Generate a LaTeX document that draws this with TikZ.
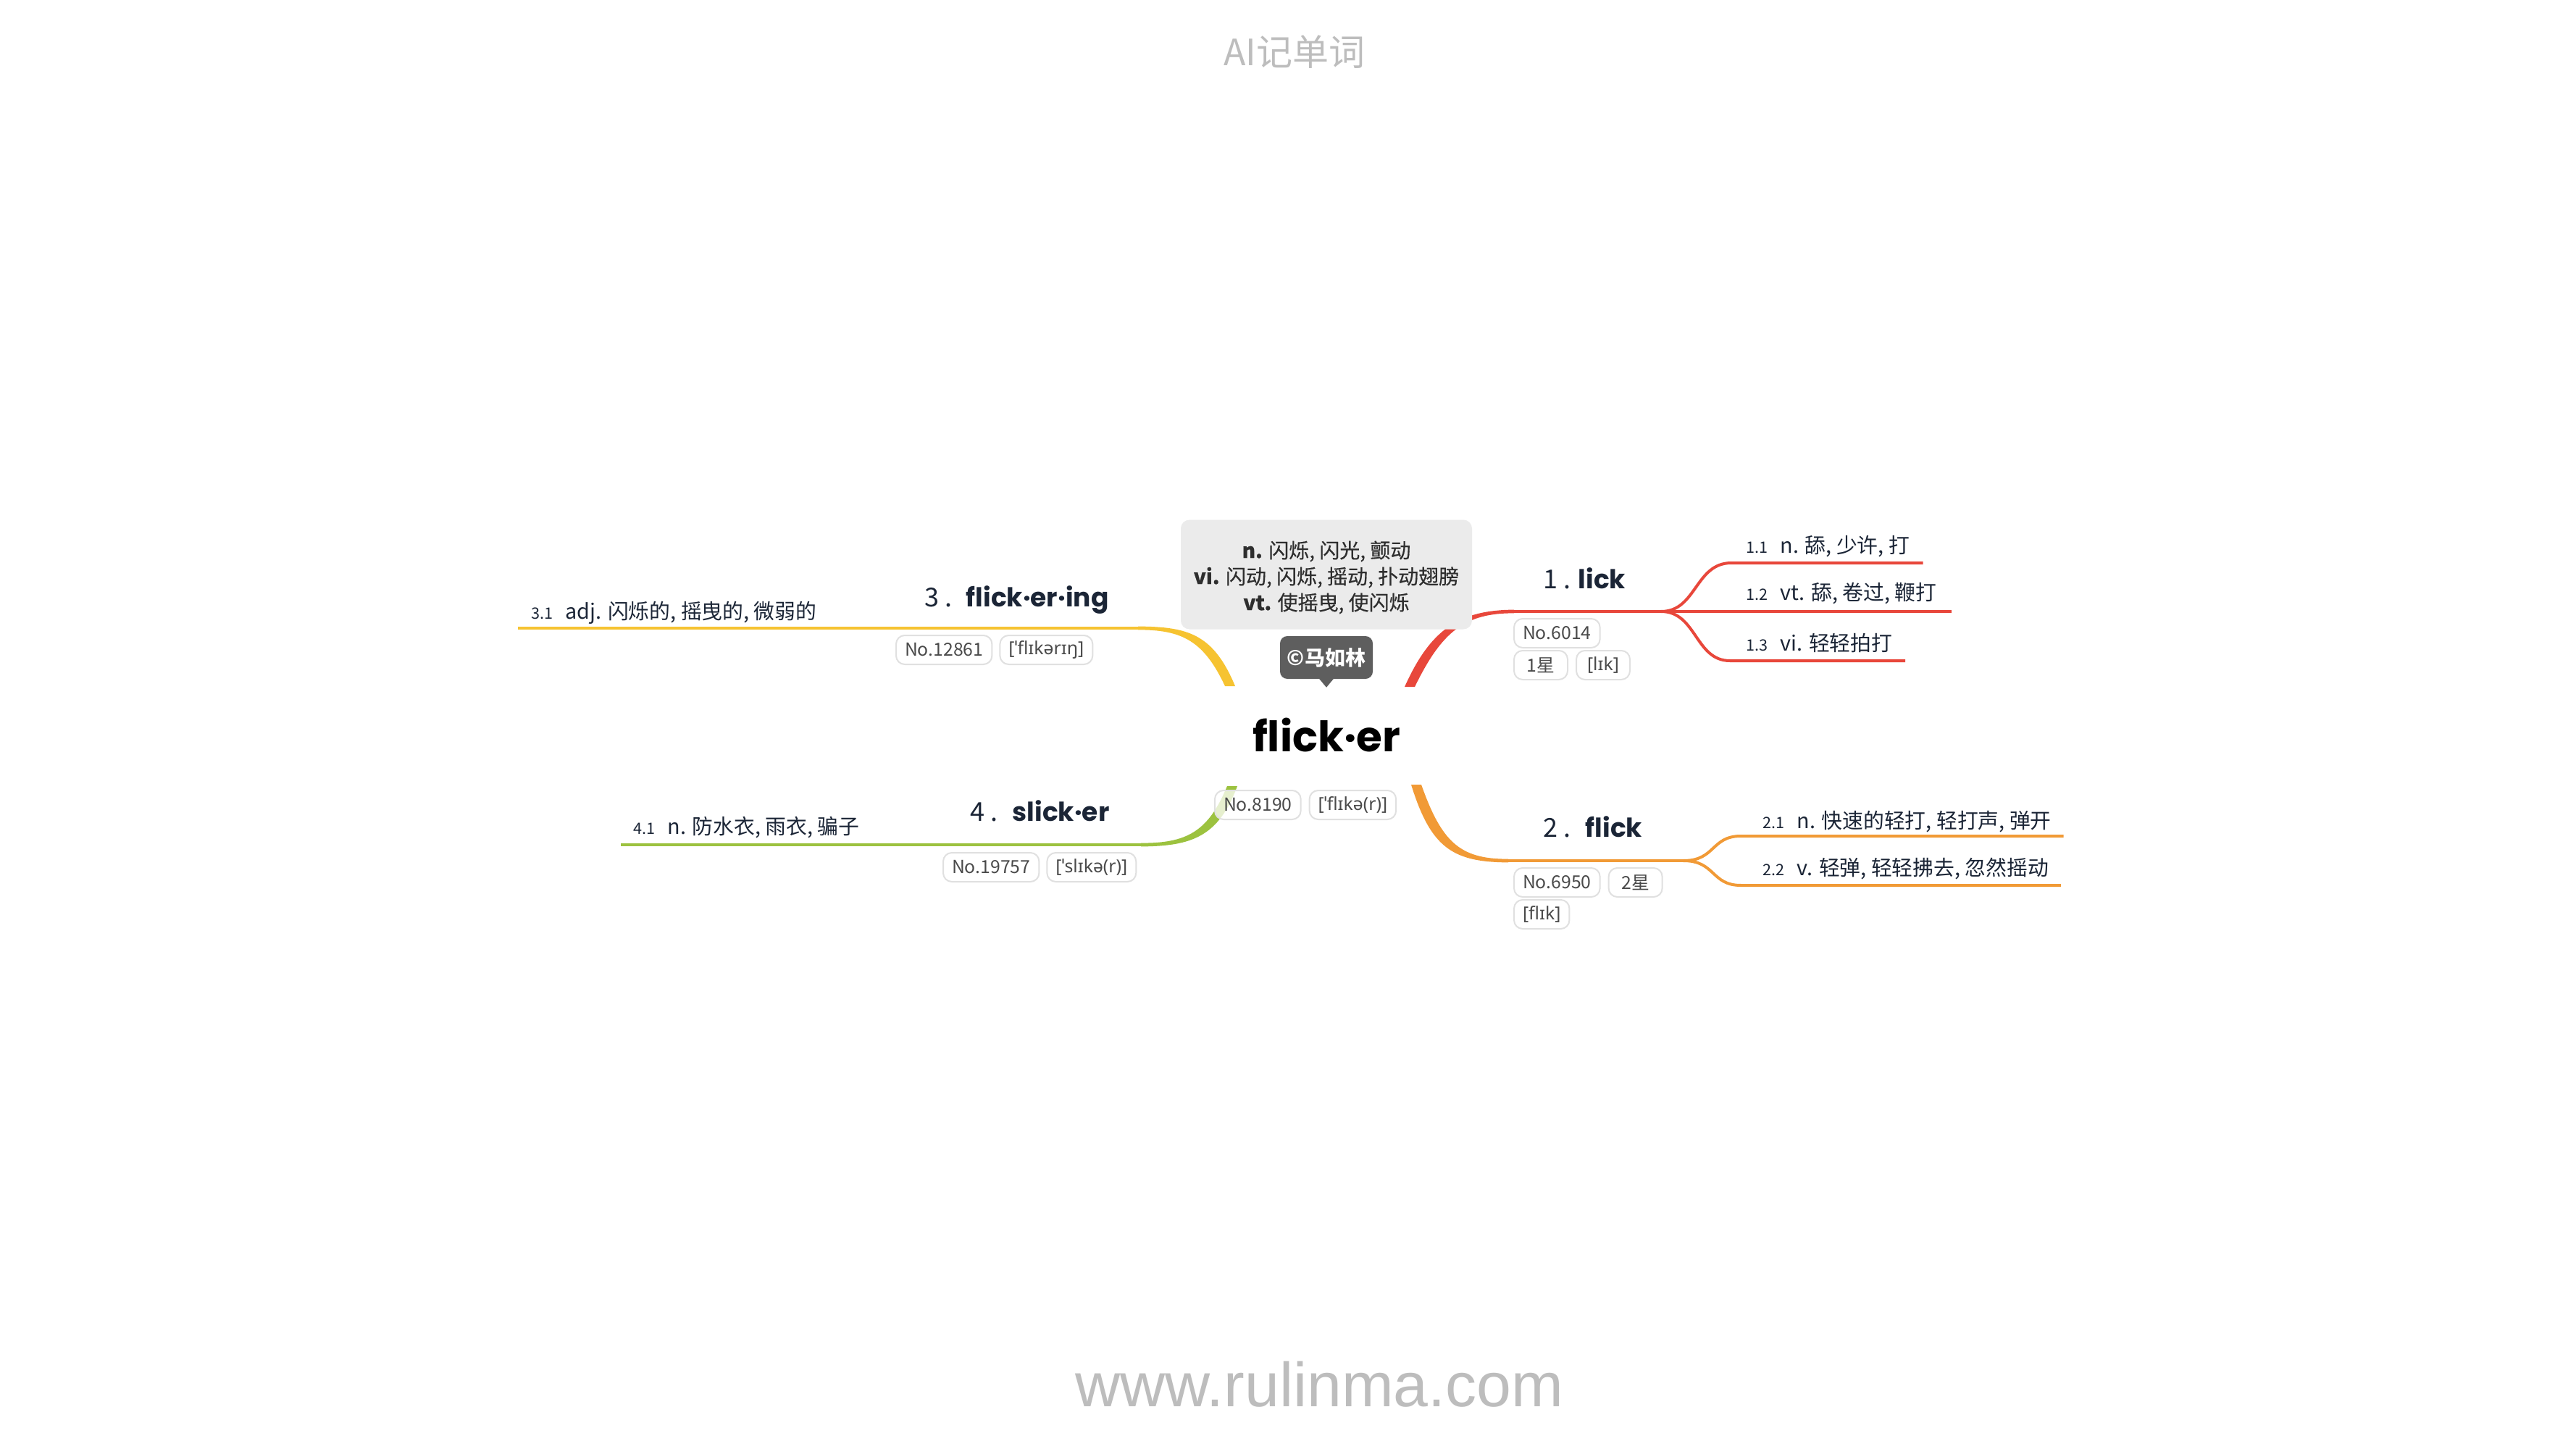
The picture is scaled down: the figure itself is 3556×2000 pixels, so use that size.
\documentclass[tikz,border=0pt]{standalone}
\usepackage{fontspec}
\setmainfont{Noto Sans CJK SC}
\newfontfamily\defcjk{Noto Sans CJK SC}[FakeBold=0.5]
\newfontfamily\ipafont{Noto Sans}
\newfontfamily\titlefont{Poppins}
\newfontfamily\urlfont{Liberation Sans}
\usetikzlibrary{calc}
\definecolor{cred}{HTML}{E8473B}
\definecolor{corange}{HTML}{F19A36}
\definecolor{cyellow}{HTML}{F6C331}
\definecolor{cgreen}{HTML}{9CC23F}
\definecolor{navy}{HTML}{1B2536}
\definecolor{tagtext}{HTML}{4A4A4A}
\definecolor{tagline}{HTML}{E0E0E0}
\definecolor{wm}{HTML}{BDBDBD}
\definecolor{defbg}{HTML}{EBEBEB}
\definecolor{deftext}{HTML}{2E2E2E}
\definecolor{authbg}{HTML}{5E5E5E}
\newcommand\subnumfont{\fontsize{5.4}{6}\selectfont}
\begin{document}
\begin{tikzpicture}[x=0.25pt,y=-0.25pt,
  tag/.style={draw=tagline, line width=0.5pt, rounded corners=3pt, fill=white,
    fill opacity=0.75, text opacity=1, text=tagtext,
    font=\fontsize{6.2}{7}\selectfont, inner xsep=3pt, inner ysep=0pt,
    minimum height=10pt, minimum width=18.5pt, anchor=west},
  sublabel/.style={font=\fontsize{7.2}{8.6}\selectfont, text=navy, inner sep=0pt, anchor=base west},
  bnum/.style={font=\fontsize{9}{10}\selectfont, text=navy, inner sep=0pt, anchor=base west},
  btitle/.style={font=\titlefont\bfseries\fontsize{9}{10}\selectfont, text=navy, inner sep=0pt, anchor=base west},
  mainline/.style={line width=1.2pt},
  subline/.style={line width=1pt},
]
\fill[white] (0,0) rectangle (3556,2000);
\useasboundingbox (0,0) rectangle (3556,2000);

% watermark texts
\node[text=wm, font=\fontsize{12.5}{15}\selectfont] (title) at (1787,72) {AI记单词};
\node[text=wm, font=\urlfont\fontsize{21.5}{24}\selectfont] (url) at (1821,1911) {www.rulinma.com};

% central word
\node[font=\titlefont\bfseries\fontsize{14.5}{16}\selectfont, text=black, inner sep=0pt, anchor=base] (c) at (1831,1037) {flick·er};

% branch anchor coordinates
\coordinate (r0) at (1946,948);
\coordinate (r1) at (2090,844);
\coordinate (rs) at (2293,844);
\coordinate (o0) at (1955,1083);
\coordinate (o1) at (2082,1188);
\coordinate (os) at (2324,1188);
\coordinate (y0) at (1698,947);
\coordinate (y1) at (1571,867);
\coordinate (g0) at (1701,1085);
\coordinate (g1) at (1575,1166);

% branch titles
\node[bnum] (n1) at (2130,812) {1 .};
\node[btitle] (b1) at (2178,812) {lick};
\node[bnum] (n2) at (2130,1155) {2 .};
\node[btitle] (b2) at (2188,1155) {flick};
\node[bnum] (n3) at (1276,837) {3 .};
\node[btitle] (b3) at (1333,837) {flick·er·ing};
\node[bnum] (n4) at (1339,1133) {4 .};
\node[btitle] (b4) at (1397,1133) {slick·er};

% sub labels
\node[sublabel] (s11) at (2410,763) {{\subnumfont 1.1}\hspace{4.2pt}n. 舔, 少许, 打};
\node[sublabel] (s12) at (2410,829) {{\subnumfont 1.2}\hspace{4.2pt}vt. 舔, 卷过, 鞭打};
\node[sublabel] (s13) at (2410,898) {{\subnumfont 1.3}\hspace{4.2pt}vi. 轻轻拍打};
\node[sublabel] (s21) at (2433,1143) {{\subnumfont 2.1}\hspace{4.2pt}n. 快速的轻打, 轻打声, 弹开};
\node[sublabel] (s22) at (2433,1208) {{\subnumfont 2.2}\hspace{4.2pt}v. 轻弹, 轻轻拂去, 忽然摇动};
\node[sublabel] (s31) at (733,854) {{\subnumfont 3.1}\hspace{4.2pt}adj. 闪烁的, 摇曳的, 微弱的};
\node[sublabel] (s41) at (874,1151) {{\subnumfont 4.1}\hspace{4.2pt}n. 防水衣, 雨衣, 骗子};

\coordinate (l11) at (2390,777);
\coordinate (l13) at (2388,912);
\coordinate (l21) at (2403,1154);
\coordinate (l22) at (2403,1222);

% red branch
\fill[cred] ($(r0)+(-7,0)$) .. controls (1975,868) and (2015,842) .. ($(r1)+(0,-2.4)$)
  -- ($(r1)+(0,2.4)$) .. controls (2022,846) and (1990,872) .. ($(r0)+(7,0)$) -- cycle;
\draw[cred, mainline] (r1) -- (rs);
\draw[cred, subline] (rs) .. controls (2342,844) and (2340,777) .. (l11) -- ($(s11.east |- l11)+(18,0)$);
\draw[cred, subline] (rs) -- ($(s12.east |- rs)+(20,0)$);
\draw[cred, subline] (rs) .. controls (2342,844) and (2340,912) .. (l13) -- ($(s13.east |- l13)+(17,0)$);

% orange branch
\fill[corange] ($(o0)+(-7,0)$) .. controls (1975,1170) and (2005,1190) .. ($(o1)+(0,2.4)$)
  -- ($(o1)+(0,-2.4)$) .. controls (2015,1186) and (1990,1162) .. ($(o0)+(7,0)$) -- cycle;
\draw[corange, mainline] (o1) -- (os);
\draw[corange, subline] (os) .. controls (2368,1188) and (2362,1154) .. (l21) -- ($(s21.east |- l21)+(16,0)$);
\draw[corange, subline] (os) .. controls (2368,1188) and (2362,1222) .. (l22) -- ($(s22.east |- l22)+(16,0)$);

% yellow branch
\fill[cyellow] ($(y0)+(7,0)$) .. controls (1675,875) and (1640,865) .. ($(y1)+(0,-2.4)$)
  -- ($(y1)+(0,2.4)$) .. controls (1632,869) and (1662,885) .. ($(y0)+(-7,0)$) -- cycle;
\draw[cyellow, mainline] (y1) -- ($(s31.west |- y1)+(-18,0)$);

% green branch
\fill[cgreen] ($(g0)+(7,0)$) .. controls (1682,1155) and (1645,1168) .. ($(g1)+(0,2.4)$)
  -- ($(g1)+(0,-2.4)$) .. controls (1638,1164) and (1668,1148) .. ($(g0)+(-7,0)$) -- cycle;
\draw[cgreen, mainline] (g1) -- ($(s41.west |- g1)+(-17,0)$);

% tags
\node[tag] (t0a) at (1676,1111) {No.8190};
\node[tag] (t0b) at ($(t0a.east)+(10,0)$) {\ipafont [ˈflɪkə(r)]};
\node[tag] (t1a) at (2089,874) {No.6014};
\node[tag] (t1b) at (2089,918) {1星};
\node[tag] (t1c) at ($(t1b.east)+(10,0)$) {\ipafont [lɪk]};
\node[tag] (t2a) at (2089,1218) {No.6950};
\node[tag] (t2b) at ($(t2a.east)+(10,0)$) {2星};
\node[tag] (t2c) at (2089,1262) {\ipafont [flɪk]};
\node[tag] (t3a) at (1236,897) {No.12861};
\node[tag] (t3b) at ($(t3a.east)+(9,0)$) {\ipafont [ˈflɪkərɪŋ]};
\node[tag] (t4a) at (1301,1197) {No.19757};
\node[tag] (t4b) at ($(t4a.east)+(9,0)$) {\ipafont [ˈslɪkə(r)]};

% definition box
\node[fill=defbg, rounded corners=3pt, minimum width=100.5pt, minimum height=37.75pt,
  text=deftext, inner sep=0pt] (def) at (1831,793) {};
\node[align=center, text=deftext, font=\defcjk\fontsize{7}{9}\selectfont, inner sep=0pt] (deftxt) at (1831,797)
  {{\bfseries n.} 闪烁, 闪光, 颤动\\ {\bfseries vi.} 闪动, 闪烁, 摇动, 扑动翅膀\\ {\bfseries vt.} 使摇曳, 使闪烁};

% author label
\node[fill=authbg, rounded corners=2.5pt, minimum width=32pt, minimum height=14.75pt,
  text=white, font=\bfseries\fontsize{7}{8}\selectfont, inner sep=0pt] (auth) at (1831,907.5) {©马如林};
\fill[authbg] ($(auth.south)+(-10,-1)$) -- ($(auth.south)+(10,-1)$) -- ($(auth.south)+(0,11)$) -- cycle;
\end{tikzpicture}
\end{document}
